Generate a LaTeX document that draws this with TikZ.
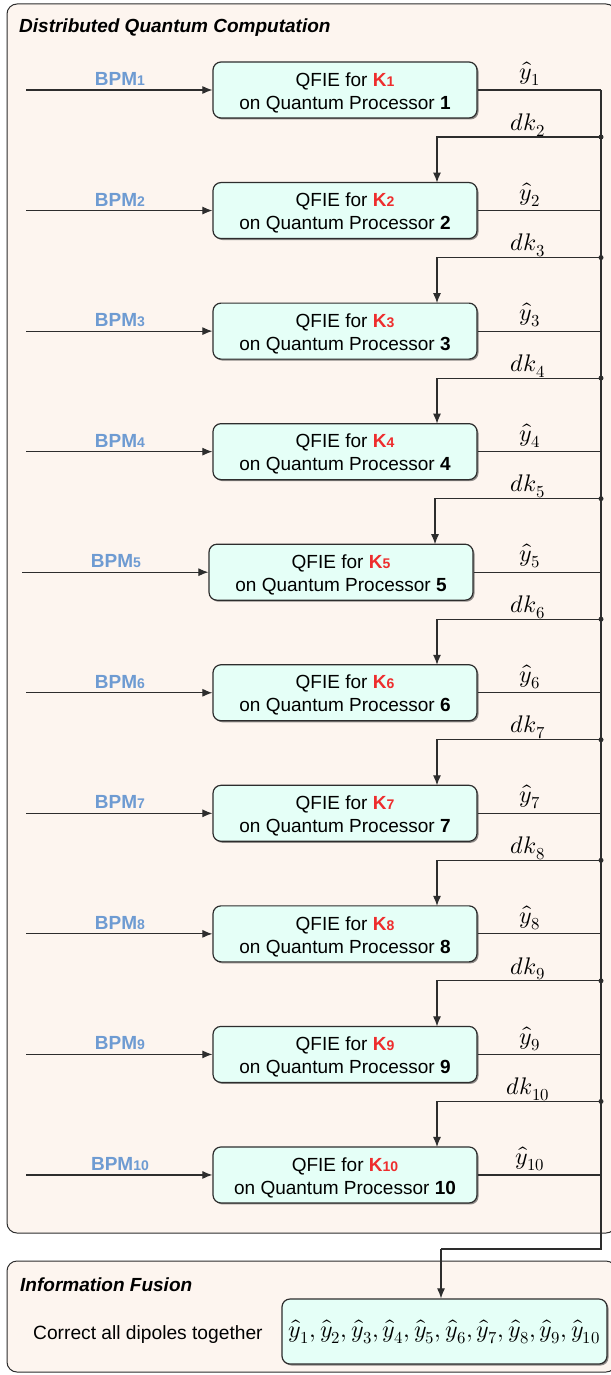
\documentclass[tikz,border=0pt]{standalone}
\usepackage{fontspec}
\usepackage{unicode-math}
\setmainfont{Liberation Sans}
\setmathfont{Latin Modern Math}
\usetikzlibrary{arrows.meta,shadows,calc}
\definecolor{bg}{RGB}{253,245,239}
\definecolor{boxfill}{RGB}{229,255,247}
\definecolor{bpmblue}{RGB}{110,155,210}
\definecolor{kred}{RGB}{238,45,45}
\definecolor{ln}{RGB}{45,45,45}
\newcommand\smn[1]{{\fontsize{14}{15}\selectfont #1}}
\tikzset{
 panel/.style={draw=ln, line width=1pt, rounded corners=10pt, fill=bg},
 proc/.style={draw=ln, line width=1.2pt, rounded corners=8pt, fill=boxfill,
   minimum width=264pt, minimum height=56pt, align=center, inner sep=0pt,
   font=\fontsize{19}{23}\selectfont,
   drop shadow={shadow xshift=1.5pt, shadow yshift=-1.5pt, opacity=0.55, fill=black!80}},
 wire/.style={draw=ln, line width=1.1pt},
 arr/.style={wire, -{Latex[length=10pt,width=8pt]}},
 bpm/.style={text=bpmblue, font=\fontsize{19}{20}\selectfont\bfseries, inner sep=0pt},
 mlab/.style={font=\fontsize{24}{26}\selectfont, inner sep=0pt},
 ptitle/.style={font=\fontsize{19}{20}\selectfont\bfseries\itshape, anchor=base west, inner sep=0pt},
 plain/.style={font=\fontsize{19.2}{20}\selectfont, anchor=base west, inner sep=0pt},
 jdot/.style={circle, fill=ln, inner sep=0pt, minimum size=5pt}
}
\begin{document}
\begin{tikzpicture}[x=1pt,y=-1pt]
\useasboundingbox (0,0) rectangle (610,1375);
\fill[white] (0,0) rectangle (610,1375);
% panels
\draw[panel] (7,4) rectangle (616,1233);
\draw[panel] (7,1261) rectangle (616,1372);
\node[ptitle] (t1) at (19,33) {Distributed Quantum Computation};
\node[ptitle] (t2) at (20,1291) {Information Fusion};
% processors
\foreach \k in {1,...,10}{
  \pgfmathsetmacro\yc{90+(\k-1)*120.55}
  \pgfmathsetmacro\xs{(\k==5)*(-4)}
  \node[proc] (p\k) at (345+\xs,\yc) {\rule{0pt}{19pt}QFIE for {\color{kred}\bfseries K\smn{\k}}\\on Quantum Processor \textbf{\k}};
  \coordinate (in\k) at (26+\xs,\yc);
  \draw[arr] (in\k) -- (p\k.west);
  \node[bpm] (b\k) at (120+\xs,\yc-11) {BPM\smn{\k}};
  \coordinate (bus\k) at (601,\yc);
  \draw[wire] (p\k.east) -- (bus\k);
  \node[mlab] (y\k) at (530,\yc-16) {$\hat{y}_{\k}$};
}
% feedback dk lines
\foreach \k in {2,...,10}{
  \pgfmathsetmacro\dy{90+(\k-2)*120.55+47}
  \pgfmathsetmacro\yc{90+(\k-1)*120.55}
  \pgfmathsetmacro\xs{(\k==5)*(-2)}
  \node[jdot] (j\k) at (601,\dy) {};
  \coordinate (t\k) at (437+\xs,\yc-28);
  \draw[arr] (j\k.center) -- (t\k |- j\k.center) -- (t\k);
  \node[mlab] (dk\k) at (528,\dy-12) {$dk_{\k}$};
}
% bus
\coordinate (bend) at (601,1249);
\coordinate (fa) at (441,1249);
\node[proc, minimum width=325pt, minimum height=65pt, font=\fontsize{24}{26}\selectfont] (fin) at (444.5,1331.5)
  {$\hat{y}_1,\hat{y}_2,\hat{y}_3,\hat{y}_4,\hat{y}_5,\hat{y}_6,\hat{y}_7,\hat{y}_8,\hat{y}_9,\hat{y}_{10}$};
\draw[wire] (bus1) -- (bend) -- (fa);
\draw[arr] (fa) -- (fa |- fin.north);
\node[plain] (cat) at (33,1339) {Correct all dipoles together};
\end{tikzpicture}
\end{document}
